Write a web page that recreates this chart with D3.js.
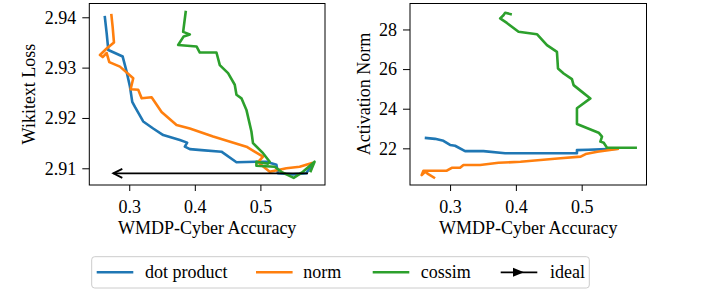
<!DOCTYPE html>
<html lang='en'>
  <head>
    <meta charset='utf-8'>
    <title>WMDP-Cyber tradeoff</title>
    <script type='text/javascript' src='https://cdn.jsdelivr.net/npm/d3@7'></script>
    <style type='text/css'>
    body{ margin: 0; background: white; }
    .axis line{
      stroke: black;
      stroke-width: 1;
    }
    </style>
  </head>
  <body>
    <script type='text/javascript'>

    var w = 718;
    var h = 291;
    var serif = 'Liberation Serif';

    var seriesNames = ['dot product', 'norm', 'cossim'];
    var colors = ['#1f77b4', '#ff7f0e', '#2ca02c'];
    var xTicks = [0.3, 0.4, 0.5];
    var lossTicks = [2.91, 2.92, 2.93, 2.94];
    var normTicks = [22, 24, 26, 28];

    // left panel: [accuracy, wikitext loss]
    var dotLoss = [[0.2626,2.9403],[0.2656,2.9368],[0.2681,2.9335],[0.2900,2.9322],[0.2960,2.9292],
      [0.3011,2.9262],[0.3046,2.9232],[0.3087,2.9222],[0.3213,2.9193],[0.3365,2.9179],[0.3518,2.9166],
      [0.3772,2.9156],[0.3883,2.9151],[0.3848,2.9143],[0.3924,2.9138],[0.4102,2.9136],[0.4406,2.9133],
      [0.4635,2.9112],[0.4939,2.9113],[0.5091,2.9113],[0.5244,2.9107],[0.5268,2.9090],[0.5496,2.9088],
      [0.5700,2.9090],[0.5801,2.9110]];
    var normLoss = [[0.2726,2.9407],[0.2747,2.9381],[0.2767,2.9350],[0.2656,2.9338],[0.2554,2.9325],
      [0.2595,2.9321],[0.2656,2.9329],[0.2696,2.9311],[0.2858,2.9302],[0.3061,2.9279],[0.3021,2.9257],
      [0.3137,2.9256],[0.3189,2.9239],[0.3341,2.9241],[0.3493,2.9212],[0.3721,2.9186],[0.3924,2.9179],
      [0.4279,2.9163],[0.4787,2.9143],[0.5040,2.9123],[0.4963,2.9112],[0.5142,2.9093],[0.5396,2.9100],
      [0.5598,2.9103],[0.5801,2.9111]];
    var cosLoss = [[0.3863,2.9413],[0.3822,2.9371],[0.3924,2.9366],[0.3830,2.9362],[0.3746,2.9345],
      [0.4026,2.9342],[0.4076,2.9330],[0.4330,2.9330],[0.4381,2.9305],[0.4507,2.9289],[0.4609,2.9266],
      [0.4635,2.9246],[0.4711,2.9239],[0.4787,2.9216],[0.4863,2.9173],[0.4887,2.9150],[0.5040,2.9130],
      [0.5142,2.9113],[0.5116,2.9109],[0.4939,2.9113],[0.4939,2.9105],[0.5218,2.9103],[0.5320,2.9093],
      [0.5507,2.9081],[0.5648,2.9093],[0.5826,2.9113],[0.5760,2.9092]];

    // right panel: [accuracy, activation norm]
    var dotNorm = [[0.2615,22.53],[0.2772,22.48],[0.2899,22.38],[0.3000,22.17],[0.3076,22.13],
      [0.3228,21.86],[0.3507,21.86],[0.3837,21.75],[0.4420,21.75],[0.4928,21.75],[0.4928,21.91],
      [0.5100,21.93],[0.5385,21.96],[0.5566,21.98]];
    var normNorm = [[0.2772,20.49],[0.2670,20.70],[0.2620,20.82],[0.2569,20.65],[0.2595,20.87],
      [0.2747,20.87],[0.2950,20.87],[0.3026,21.02],[0.3152,21.02],[0.3203,21.16],[0.3457,21.16],
      [0.3736,21.27],[0.4070,21.32],[0.4679,21.50],[0.4984,21.58],[0.5060,21.71],[0.5238,21.83],
      [0.5566,21.98]];
    var cosNorm = [[0.3939,28.76],[0.3837,28.84],[0.3811,28.72],[0.3761,28.56],[0.3863,28.33],
      [0.4040,27.88],[0.4320,27.76],[0.4472,27.21],[0.4624,26.87],[0.4640,26.03],[0.4726,25.78],
      [0.4852,25.49],[0.4877,25.19],[0.5005,24.85],[0.5132,24.52],[0.4928,24.02],[0.4928,23.23],
      [0.5258,22.79],[0.5309,22.59],[0.5284,22.34],[0.5335,22.28],[0.5385,22.03],[0.5566,22.03],
      [0.5840,22.03]];

    // ideal arrow: from -> to
    var idealArrow = [[0.5725,2.9090],[0.2757,2.9090]];

    var svg = d3.select('body')
                .append('svg')
                .attr('width', w)
                .attr('height', h)
                .attr('font-family', serif)
                .attr('font-size', 18);

    var xDomain = [0.2391, 0.5985];

    function styleAxis(sel){
      sel.attr('font-family', serif).attr('font-size', 18);
      sel.select('.domain').remove();
      sel.selectAll('text').attr('font-family', serif).attr('fill', 'black');
    }

    function panel(left, right, yDomain, yTicks, yFmt, data, yLabel, labelX){
      var g = svg.append('g');
      var xScale = d3.scaleLinear().domain(xDomain).range([left, right]);
      var yScale = d3.scaleLinear().domain(yDomain).range([185, 3.5]);

      var line = d3.line()
                   .x(function(d){ return xScale(d[0]); })
                   .y(function(d){ return yScale(d[1]); });

      g.selectAll('path.series')
       .data(data)
       .enter()
       .append('path')
       .attr('class', 'series')
       .attr('d', line)
       .attr('fill', 'none')
       .attr('stroke', function(d, i){ return colors[i]; })
       .attr('stroke-width', 2.6)
       .attr('stroke-linejoin', 'round');

      g.append('rect')
       .attr('x', left).attr('y', 3.5)
       .attr('width', right - left).attr('height', 185 - 3.5)
       .attr('fill', 'none').attr('stroke', 'black').attr('stroke-width', 1);

      g.append('g')
       .attr('class', 'axis')
       .attr('transform', 'translate(0,185)')
       .call(d3.axisBottom(xScale).tickValues(xTicks).tickSize(6).tickPadding(9)
               .tickFormat(d3.format('.1f')))
       .call(styleAxis);

      g.append('g')
       .attr('class', 'axis')
       .attr('transform', 'translate(' + left + ',0)')
       .call(d3.axisLeft(yScale).tickValues(yTicks).tickSize(7).tickPadding(6)
               .tickFormat(yFmt))
       .call(styleAxis);

      g.append('text')
       .attr('text-anchor', 'middle')
       .attr('x', (left + right) / 2)
       .attr('y', 234)
       .text('WMDP-Cyber Accuracy');

      g.append('text')
       .attr('text-anchor', 'middle')
       .attr('transform', 'translate(' + labelX + ',94) rotate(-90)')
       .attr('dy', '0.35em')
       .text(yLabel);

      return {x: xScale, y: yScale, g: g};
    }

    var p1 = panel(89.3, 325, [2.90668, 2.94274], lossTicks, d3.format('.2f'),
                   [dotLoss, normLoss, cosLoss], 'Wikitext Loss', 29);
    panel(410, 646.5, [20.15, 29.31], normTicks, d3.format('d'),
          [dotNorm, normNorm, cosNorm], 'Activation Norm', 364);

    // ideal arrow on left panel
    var ax0 = p1.x(idealArrow[0][0]), ay = p1.y(idealArrow[0][1]);
    var ax1 = p1.x(idealArrow[1][0]);
    p1.g.append('line')
       .attr('x1', ax0).attr('y1', ay).attr('x2', ax1).attr('y2', ay)
       .attr('stroke', 'black').attr('stroke-width', 1.8);
    p1.g.append('path')
       .attr('d', 'M' + (ax1 + 9) + ',' + (ay - 4.5) + 'L' + ax1 + ',' + ay + 'L' + (ax1 + 9) + ',' + (ay + 4.5))
       .attr('fill', 'none').attr('stroke', 'black').attr('stroke-width', 1.8);

    // legend
    var leg = svg.append('g');
    leg.append('rect')
       .attr('x', 91.7).attr('y', 256.7)
       .attr('width', 589.3 - 91.7).attr('height', 31.3)
       .attr('rx', 3)
       .attr('fill', 'white').attr('stroke', '#cccccc').attr('stroke-width', 1);

    var legX = [96.7, 256, 372.7];
    var legTextX = [145, 303.3, 420.7];
    var legY = 272.3;
    seriesNames.forEach(function(name, i){
      leg.append('line')
         .attr('x1', legX[i]).attr('x2', legX[i] + 36.6)
         .attr('y1', legY).attr('y2', legY)
         .attr('stroke', colors[i]).attr('stroke-width', 2.6);
      leg.append('text')
         .attr('x', legTextX[i]).attr('y', legY)
         .attr('dy', '0.33em')
         .text(name);
    });
    leg.append('line')
       .attr('x1', 500.7).attr('x2', 537.3)
       .attr('y1', legY).attr('y2', legY)
       .attr('stroke', 'black').attr('stroke-width', 1.8);
    leg.append('path')
       .attr('d', 'M513,' + (legY - 4.5) + 'L524,' + legY + 'L513,' + (legY + 4.5) + 'Z')
       .attr('fill', 'black');
    leg.append('text')
       .attr('x', 550).attr('y', legY)
       .attr('dy', '0.33em')
       .text('ideal');

    </script>
  </body>
</html>
